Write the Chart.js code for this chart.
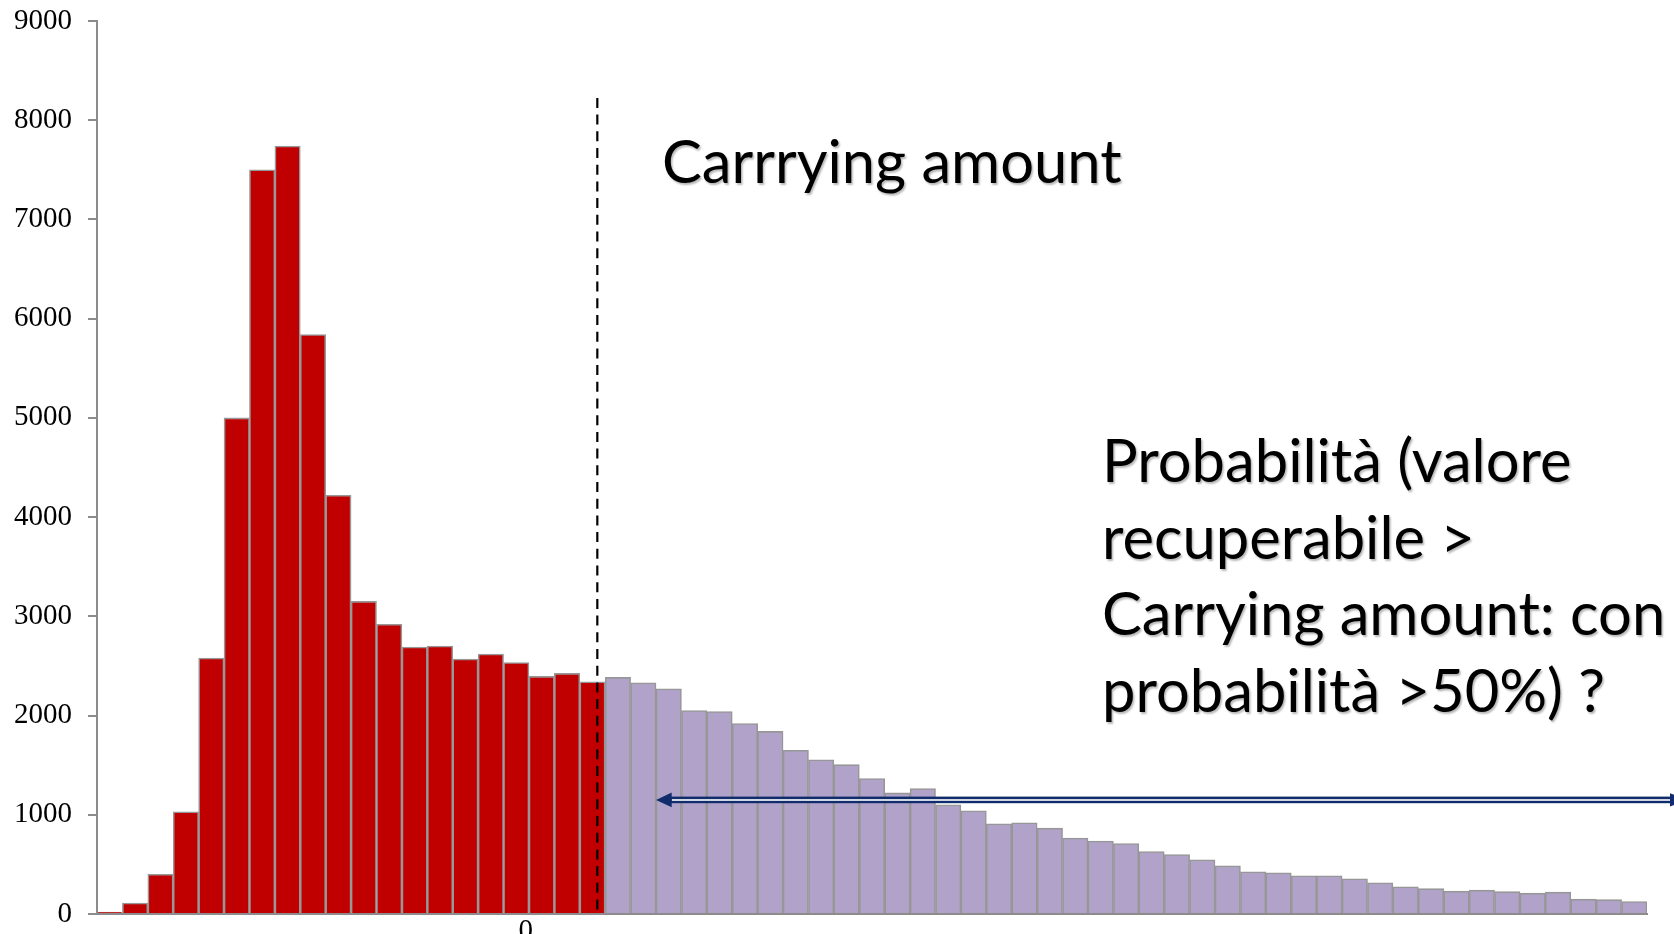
<!DOCTYPE html>
<html>
<head>
<meta charset="utf-8">
<script src="https://cdn.jsdelivr.net/npm/chart.js@4.4.1/dist/chart.umd.min.js"></script>
<style>
  html, body { margin: 0; padding: 0; background: #fff; }
  #wrap { position: relative; width: 1674px; height: 934px; overflow: hidden; }
  #c { display: block; }
  .note {
    position: absolute;
    font-family: Lato, "Open Sans", sans-serif;
    font-size: 59.7px;
    line-height: 76.5px;
    color: #000;
    white-space: nowrap;
    text-shadow: 1.5px 1.5px 2px rgba(0, 0, 0, 0.28);
  }
  #carrying { left: 662px; top: 122px; }
  #question { left: 1102px; top: 421px; }
</style>
</head>
<body>
<div id="wrap">
  <canvas id="c" width="1674" height="934"></canvas>
  <div class="note" id="carrying">Carrrying amount</div>
  <div class="note" id="question">Probabilità (valore<br>recuperabile &gt;<br>Carrying amount: con<br>probabilità &gt;50%) ?</div>
</div>
<script>
// Histogram of simulated recoverable values (frequency per bin)
const counts = [
  20, 110, 400, 1030, 2580, 5000, 7500, 7740, 5840, 4220,
  3150, 2920, 2690, 2700, 2570, 2620, 2535, 2395, 2425, 2340,
  2385, 2330, 2270, 2050, 2040, 1920, 1840, 1650, 1555, 1505,
  1365, 1220, 1265, 1100, 1040, 910, 920, 865, 765, 735,
  710, 630, 600, 545, 485, 425, 415, 385, 385, 355,
  315, 275, 255, 230, 240, 225, 210, 220, 150, 145, 125
];
const binStart = -16.87;       // left edge of the first bin
const binWidth = 1;
const carryingAmount = 2.82;   // threshold marked by the dashed line
const dashedLineTop = 8225;    // y value where the dashed marker begins
const arrowFrom = 5.13;        // x value of the arrow tip
const arrowLevel = 1150;       // y value of the arrow
const yTickValues = [0, 1000, 2000, 3000, 4000, 5000, 6000, 7000, 8000, 9000];
const xTickValues = [0];

const bins = counts.map((c, i) => ({ x: binStart + binWidth * (i + 0.5), y: c }));
const barColors = bins.map(b => (b.x < carryingAmount ? '#C00000' : '#B1A2C9'));

const AXIS_GRAY = '#8c8c8c';
const NAVY = '#102C6C';

const markers = {
  id: 'markers',
  afterDatasetsDraw(chart) {
    const { ctx, scales: { x, y } } = chart;
    ctx.save();

    // dashed carrying-amount line
    const cx = x.getPixelForValue(carryingAmount);
    ctx.strokeStyle = '#000';
    ctx.lineWidth = 2.2;
    ctx.setLineDash([10, 6.7]);
    ctx.beginPath();
    ctx.moveTo(cx, y.getPixelForValue(dashedLineTop));
    ctx.lineTo(cx, y.getPixelForValue(0));
    ctx.stroke();
    ctx.setLineDash([]);

    // double-line arrow running to the right edge
    const ay = y.getPixelForValue(arrowLevel);
    const ax = x.getPixelForValue(arrowFrom);
    const ex = chart.width;
    const head = 15.7, half = 7.3;
    ctx.fillStyle = NAVY;
    ctx.fillRect(ax + head - 1, ay - 3.3, ex - ax - head + 1, 6.6);
    ctx.fillStyle = '#fff';
    ctx.fillRect(ax + head, ay - 0.7, ex - ax - head - 4, 1.6);
    ctx.fillStyle = NAVY;
    ctx.beginPath();
    ctx.moveTo(ax, ay);
    ctx.lineTo(ax + head, ay - half);
    ctx.lineTo(ax + head, ay + half);
    ctx.closePath();
    ctx.fill();
    ctx.beginPath();
    ctx.moveTo(ex - 4, ay - 6.7);
    ctx.lineTo(ex + 12, ay);
    ctx.lineTo(ex - 4, ay + 6.7);
    ctx.closePath();
    ctx.fill();

    ctx.restore();
  }
};

const tickFont = { family: '"Liberation Serif", "Times New Roman", serif', size: 29 };

// keep tick labels from pushing the plot area inwards
const noLabelPadding = s => {
  s.paddingTop = 0; s.paddingBottom = 0; s.paddingLeft = 0; s.paddingRight = 0;
};

new Chart(document.getElementById('c'), {
  type: 'bar',
  data: {
    datasets: [{
      data: bins,
      backgroundColor: barColors,
      borderColor: '#979797',
      borderWidth: 1.6,
      barPercentage: 1,
      categoryPercentage: 1
    }]
  },
  options: {
    responsive: false,
    animation: false,
    layout: { padding: { top: 21, right: 27, left: 0, bottom: 0 } },
    plugins: { legend: { display: false }, tooltip: { enabled: false } },
    scales: {
      x: {
        type: 'linear',
        min: binStart,
        max: binStart + counts.length * binWidth,
        offset: false,
        afterBuildTicks: s => { s.ticks = xTickValues.map(v => ({ value: v })); },
        afterFit: s => { s.height = 20; noLabelPadding(s); },
        grid: { display: false, drawTicks: false },
        border: { display: true, color: AXIS_GRAY, width: 2 },
        ticks: {
          font: tickFont, color: '#000', padding: 0,
          maxRotation: 0, autoSkip: false,
          callback: v => String(v)
        }
      },
      y: {
        min: 0,
        max: 9000,
        afterBuildTicks: s => { s.ticks = yTickValues.map(v => ({ value: v })); },
        afterFit: s => { s.width = 97; noLabelPadding(s); },
        grid: { drawOnChartArea: false, drawTicks: true, tickLength: 9, color: AXIS_GRAY, lineWidth: 2 },
        border: { display: true, color: AXIS_GRAY, width: 2 },
        ticks: { font: tickFont, color: '#000', padding: 16, callback: v => String(v) }
      }
    }
  },
  plugins: [markers]
});
</script>
</body>
</html>
